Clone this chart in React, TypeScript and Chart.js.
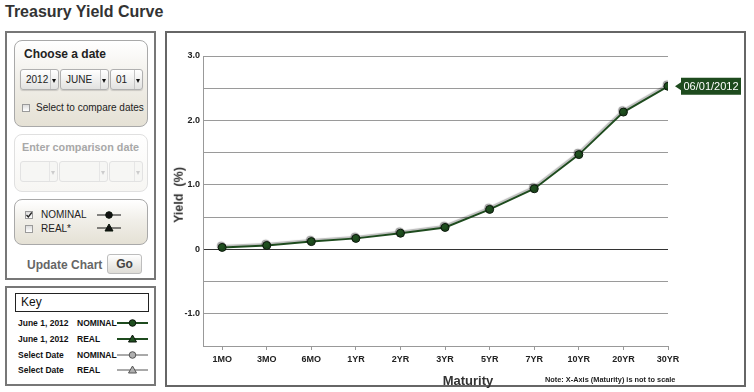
import React, { useEffect, useRef } from 'react';
import { Chart, registerables } from 'chart.js';

Chart.register(...registerables);

// ---- data ----
const categories = ['1MO', '3MO', '6MO', '1YR', '2YR', '3YR', '5YR', '7YR', '10YR', '20YR', '30YR'];
const nominalYields = [0.03, 0.06, 0.12, 0.17, 0.25, 0.34, 0.62, 0.94, 1.47, 2.13, 2.53];
const seriesDateLabel = '06/01/2012';
const yMin = -1.5;
const yMax = 3.0;
const yStep = 0.5;
const dateYear = '2012';
const dateMonth = 'JUNE';
const dateDay = '01';
const keyDates = ['June 1, 2012', 'June 1, 2012', 'Select Date', 'Select Date'];
const keyTypes = ['NOMINAL', 'REAL', 'NOMINAL', 'REAL'];
const keyMarkers = ['circle', 'triangle', 'circle', 'triangle'];

const FONT = "'Liberation Sans', Arial, Helvetica, sans-serif";
const GREEN = '#1e4b1e';

const shadowPlugin = {
  id: 'lineShadow',
  beforeDatasetDraw(chart: any) {
    const ctx = chart.ctx;
    ctx.save();
    ctx.shadowColor = 'rgba(0,0,0,0.28)';
    ctx.shadowOffsetX = -1;
    ctx.shadowOffsetY = -1.5;
    ctx.shadowBlur = 1;
  },
  afterDatasetDraw(chart: any) {
    chart.ctx.restore();
  },
};

const labelPlugin = {
  id: 'dateLabel',
  afterDatasetsDraw(chart: any) {
    const meta = chart.getDatasetMeta(0);
    const pt = meta.data[meta.data.length - 1];
    if (!pt) return;
    const ctx = chart.ctx;
    const x = pt.x;
    const y = pt.y;
    const bx = x + 13;
    const bw = 60;
    const bh = 17;
    ctx.save();
    ctx.fillStyle = GREEN;
    ctx.beginPath();
    ctx.moveTo(x + 7, y);
    ctx.lineTo(bx, y - 4);
    ctx.lineTo(bx, y - bh / 2);
    ctx.lineTo(bx + bw, y - bh / 2);
    ctx.lineTo(bx + bw, y + bh / 2);
    ctx.lineTo(bx, y + bh / 2);
    ctx.lineTo(bx, y + 4);
    ctx.closePath();
    ctx.fill();
    ctx.fillStyle = '#ffffff';
    ctx.font = `11px ${FONT}`;
    ctx.textAlign = 'center';
    ctx.textBaseline = 'middle';
    ctx.fillText(seriesDateLabel, bx + bw / 2, y + 0.5);
    ctx.restore();
  },
};

function YieldChart() {
  const ref = useRef<HTMLCanvasElement>(null);
  useEffect(() => {
    if (!ref.current) return;
    const chart = new Chart(ref.current, {
      type: 'line',
      data: {
        datasets: [
          {
            data: nominalYields.map((v, i) => ({ x: i, y: v })),
            borderColor: GREEN,
            borderWidth: 2,
            pointRadius: 4,
            pointBackgroundColor: '#1f4f1f',
            pointBorderColor: '#0b160b',
            pointBorderWidth: 1,
            tension: 0,
          },
        ],
      },
      options: {
        animation: false,
        responsive: false,
        maintainAspectRatio: false,
        layout: { padding: { left: 0, right: 76, top: 23, bottom: 0 } },
        plugins: { legend: { display: false }, tooltip: { enabled: false } },
        scales: {
          x: {
            type: 'linear',
            min: -0.43,
            max: categories.length - 1,
            afterBuildTicks: (axis: any) => {
              axis.ticks = categories.map((_, i) => ({ value: i }));
            },
            afterFit: (axis: any) => {
              axis.height = 39;
            },
            grid: { drawOnChartArea: false, drawTicks: true, tickLength: 4, color: '#999' },
            border: { display: true, color: '#999', width: 1 },
            ticks: {
              autoSkip: false,
              maxRotation: 0,
              padding: 4,
              color: '#222',
              font: { family: FONT, size: 9, weight: 'bold' },
              callback: (v: any) => categories[v as number] ?? '',
            },
          },
          y: {
            min: yMin,
            max: yMax,
            afterFit: (axis: any) => {
              axis.width = 36;
            },
            grid: {
              drawTicks: false,
              color: (c: any) => (c.tick && c.tick.value === 0 ? '#333' : '#9a9a9a'),
            },
            border: { display: true, color: '#999', width: 1 },
            ticks: {
              stepSize: yStep,
              padding: 3,
              color: '#222',
              font: { family: FONT, size: 9, weight: 'bold' },
              callback: (v: any) => {
                const n = Number(v);
                if (Math.abs(n % 1) > 1e-9) return '';
                return n === 0 ? '0' : n.toFixed(1);
              },
            },
          },
        },
      },
      plugins: [shadowPlugin, labelPlugin],
    });
    return () => chart.destroy();
  }, []);
  return (
    <canvas
      ref={ref}
      width={577}
      height={352}
      style={{ position: 'absolute', left: 167, top: 33, width: 577, height: 352 }}
    />
  );
}

function Dropdown({ x, y, w, h, label, faded }: any) {
  return (
    <div
      style={{
        position: 'absolute',
        left: x,
        top: y,
        width: w,
        height: h,
        boxSizing: 'border-box',
        border: `1px solid ${faded ? '#e2e2e2' : '#b0b0b0'}`,
        borderRadius: 3,
        background: faded ? '#f6f6f4' : 'linear-gradient(#ffffff, #e2e2e0)',
        boxShadow: faded ? 'none' : '0 1px 1px rgba(0,0,0,0.15)',
      }}
    >
      <div
        style={{
          position: 'absolute',
          left: 5,
          top: 0,
          lineHeight: `${h - 2}px`,
          fontSize: 10,
          color: '#222',
        }}
      >
        {label}
      </div>
      <div
        style={{
          position: 'absolute',
          right: 0,
          top: 0,
          width: 7,
          height: h - 2,
          borderLeft: `1px solid ${faded ? '#e6e6e6' : '#c4c4c4'}`,
        }}
      >
        <div
          style={{
            position: 'absolute',
            left: 1,
            top: (h - 2) / 2 - 1,
            width: 0,
            height: 0,
            borderLeft: '2.5px solid transparent',
            borderRight: '2.5px solid transparent',
            borderTop: `4px solid ${faded ? '#ccc' : '#111'}`,
          }}
        />
      </div>
    </div>
  );
}

function CheckBox({ x, y, checked }: any) {
  return (
    <div
      style={{
        position: 'absolute',
        left: x,
        top: y,
        width: 8,
        height: 8,
        boxSizing: 'border-box',
        border: '1px solid #9a9a9a',
        background: 'linear-gradient(#dcdcdc, #ffffff)',
      }}
    >
      {checked && (
        <svg width={8} height={8} style={{ position: 'absolute', left: -1, top: -1 }}>
          <path d="M1.5 4 L3.3 6 L6.8 1.5" stroke="#222" strokeWidth={1.3} fill="none" />
        </svg>
      )}
    </div>
  );
}

function Marker({ x, y, w, kind, dark, thick }: any) {
  const cx = w / 2;
  const fill = dark ? (thick ? '#1f4f1f' : '#111') : '#b0b0b0';
  const stroke = dark ? '#0b160b' : '#555';
  const line = dark ? (thick ? GREEN : '#111') : '#555';
  return (
    <svg width={w} height={10} style={{ position: 'absolute', left: x, top: y - 5 }}>
      <line x1={0} y1={5} x2={w} y2={5} stroke={line} strokeWidth={thick ? 2 : 1} />
      {kind === 'circle' ? (
        <circle cx={cx} cy={5} r={3.3} fill={fill} stroke={stroke} strokeWidth={1} />
      ) : (
        <path d={`M${cx} 1 L${cx + 4} 8 L${cx - 4} 8 Z`} fill={fill} stroke={stroke} strokeWidth={1} />
      )}
    </svg>
  );
}

const T = (p: any) => (
  <div
    style={{
      position: 'absolute',
      whiteSpace: 'pre',
      lineHeight: 1,
      ...p.style,
    }}
  >
    {p.children}
  </div>
);

export default function App() {
  const panelBox: React.CSSProperties = {
    position: 'absolute',
    boxSizing: 'border-box',
    border: '1px solid #a9a9a9',
    borderRadius: 8,
    background: 'linear-gradient(#ffffff 0%, #f1efe9 45%, #e5e1d5 100%)',
  };
  const keyRowY = [323, 339, 355, 370];
  return (
    <div
      style={{
        position: 'absolute',
        left: 0,
        top: 0,
        width: 754,
        height: 392,
        background: '#fff',
        fontFamily: FONT,
        overflow: 'hidden',
      }}
    >
      <T style={{ left: 5, top: 4, fontSize: 16, fontWeight: 'bold', color: '#333' }}>Treasury Yield Curve</T>

      {/* control panel */}
      <div
        style={{
          position: 'absolute',
          left: 5,
          top: 31,
          width: 151,
          height: 249,
          boxSizing: 'border-box',
          border: '2px solid #777',
        }}
      />
      <div style={{ ...panelBox, left: 14, top: 40, width: 134, height: 87 }} />
      <T style={{ left: 24, top: 48, fontSize: 12, fontWeight: 'bold', color: '#222' }}>Choose a date</T>
      <Dropdown x={20} y={69} w={39} h={21} label={dateYear} />
      <Dropdown x={60} y={69} w={49} h={21} label={dateMonth} />
      <Dropdown x={110} y={69} w={33} h={21} label={dateDay} />
      <CheckBox x={22} y={104} />
      <T style={{ left: 36, top: 103, fontSize: 10, color: '#222' }}>Select to compare dates</T>

      <div
        style={{
          ...panelBox,
          left: 14,
          top: 134,
          width: 134,
          height: 58,
          border: '1px solid #e0e0e0',
          background: 'linear-gradient(#ffffff, #f7f6f3)',
        }}
      />
      <T style={{ left: 22, top: 142, fontSize: 10.8, fontWeight: 'bold', color: '#a8a8a8' }}>
        Enter comparison date
      </T>
      <Dropdown x={20} y={161} w={38} h={21} label="" faded />
      <Dropdown x={59} y={161} w={49} h={21} label="" faded />
      <Dropdown x={109} y={161} w={34} h={21} label="" faded />

      <div style={{ ...panelBox, left: 14, top: 199, width: 134, height: 46 }} />
      <CheckBox x={25} y={211} checked />
      <T style={{ left: 41, top: 210, fontSize: 10, color: '#222' }}>NOMINAL</T>
      <Marker x={97} y={215} w={24} kind="circle" dark />
      <CheckBox x={25} y={225} />
      <T style={{ left: 41, top: 224, fontSize: 10, color: '#222' }}>REAL*</T>
      <Marker x={97} y={228} w={24} kind="triangle" dark />

      <T style={{ left: 27, top: 259, fontSize: 12, fontWeight: 'bold', color: '#666' }}>Update Chart</T>
      <div
        style={{
          position: 'absolute',
          left: 107,
          top: 254,
          width: 35,
          height: 20,
          boxSizing: 'border-box',
          border: '1px solid #bdbdbd',
          borderRadius: 3,
          background: 'linear-gradient(#ffffff, #dedcd6)',
          textAlign: 'center',
          lineHeight: '18px',
          fontSize: 12,
          fontWeight: 'bold',
          color: '#444',
        }}
      >
        Go
      </div>

      {/* key */}
      <div
        style={{
          position: 'absolute',
          left: 5,
          top: 286,
          width: 151,
          height: 100,
          boxSizing: 'border-box',
          border: '2px solid #777',
        }}
      />
      <div
        style={{
          position: 'absolute',
          left: 15,
          top: 293,
          width: 134,
          height: 19,
          boxSizing: 'border-box',
          border: '1px solid #222',
          fontSize: 12,
          lineHeight: '17px',
          paddingLeft: 5,
          color: '#111',
        }}
      >
        Key
      </div>
      {keyDates.map((d, i) => (
        <React.Fragment key={i}>
          <T style={{ left: 18, top: keyRowY[i] - 4.5, fontSize: 8.5, fontWeight: 'bold', color: '#111' }}>{d}</T>
          <T style={{ left: 77, top: keyRowY[i] - 4.5, fontSize: 8.5, fontWeight: 'bold', color: '#111' }}>
            {keyTypes[i]}
          </T>
          <Marker x={117} y={keyRowY[i]} w={31} kind={keyMarkers[i]} dark={i < 2} thick={i < 2} />
        </React.Fragment>
      ))}

      {/* chart frame */}
      <div
        style={{
          position: 'absolute',
          left: 165,
          top: 31,
          width: 581,
          height: 356,
          boxSizing: 'border-box',
          border: '2px solid #666',
        }}
      />
      <YieldChart />
      <T
        style={{
          left: 179,
          top: 195,
          fontSize: 12.5,
          fontWeight: 'bold',
          color: '#333',
          transform: 'translate(-50%, -50%) rotate(-90deg)',
        }}
      >
        {'Yield  (%)'}
      </T>
      <T
        style={{
          left: 468,
          top: 374,
          fontSize: 13,
          fontWeight: 'bold',
          color: '#333',
          transform: 'translateX(-50%)',
        }}
      >
        Maturity
      </T>
      <T
        style={{
          left: 545,
          top: 376,
          fontSize: 8,
          fontWeight: 'bold',
          color: '#222',
          transform: 'scaleX(0.92)',
          transformOrigin: 'left center',
        }}
      >
        Note: X-Axis (Maturity) is not to scale
      </T>
    </div>
  );
}
